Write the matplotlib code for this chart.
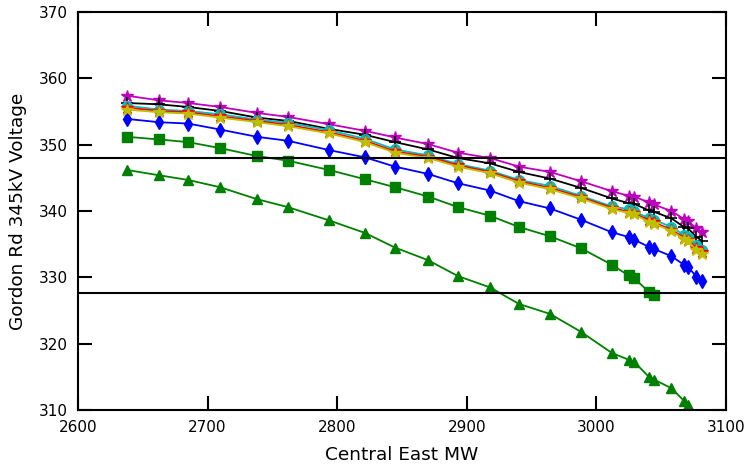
import numpy as np
import matplotlib
matplotlib.use('Agg')
import matplotlib.pyplot as plt

# Central East MW transfer levels (all cases share these, some stop early)
mw = [2637.8, 2662.5, 2684.9, 2709.6, 2738.1, 2762.0, 2793.7, 2821.5, 2844.6,
      2870.1, 2893.2, 2917.9, 2940.3, 2964.2, 2988.1, 3012.0, 3024.8, 3029.0,
      3040.6, 3044.4, 3057.9, 3067.6, 3070.7, 3077.2, 3081.5]

# Gordon Rd 345kV voltage for each case
v_mag = [357.4, 356.7, 356.3, 355.7, 354.8, 354.2, 353.1, 352.1, 351.1, 350.1,
         348.8, 348.0, 346.7, 345.9, 344.5, 343.0, 342.3, 342.2, 341.3, 341.0,
         340.0, 338.8, 338.5, 337.4, 336.8]
v_blk = [356.3, 356.1, 355.7, 355.1, 354.1, 353.6, 352.4, 351.5, 350.4, 349.3,
         348.0, 347.2, 345.9, 344.9, 343.5, 341.9, 341.2, 341.1, 340.1, 339.9,
         338.9, 337.6, 337.4, 336.1, 335.5]
v_cyn = [355.9, 355.3, 355.1, 354.6, 353.8, 353.3, 352.2, 350.9, 349.3, 348.4,
         347.1, 346.1, 344.7, 343.8, 342.3, 340.7, 340.3, 340.0, 338.9, 338.7,
         337.6, 336.4, 336.1, 334.9, 334.1]
v_red = [355.6, 355.1, 354.9, 354.3, 353.6, 353.0, 351.9, 350.6, 349.0, 348.2,
         346.9, 345.9, 344.5, 343.5, 342.1, 340.5, 339.9, 339.7, 338.6, 338.3,
         337.2, 336.0, 335.7, 334.4, 333.8]
v_yel = [355.3, 354.9, 354.7, 354.1, 353.4, 352.8, 351.7, 350.4, 348.8, 348.0,
         346.7, 345.7, 344.3, 343.3, 341.9, 340.3, 339.7, 339.5, 338.4, 338.1,
         337.0, 335.8, 335.5, 334.1, 333.5]
v_blu = [353.9, 353.4, 353.2, 352.3, 351.2, 350.6, 349.2, 348.1, 346.7, 345.6,
         344.2, 343.1, 341.5, 340.4, 338.7, 336.8, 336.1, 335.7, 334.6, 334.3,
         333.2, 331.9, 331.6, 330.1, 329.4]
v_sq = [351.2, 350.8, 350.4, 349.5, 348.3, 347.6, 346.2, 344.8, 343.6, 342.2,
        340.6, 339.3, 337.6, 336.2, 334.4, 331.9, 330.3, 329.9, 327.8, 327.3]
v_tri = [346.2, 345.4, 344.7, 343.6, 341.8, 340.6, 338.6, 336.7, 334.5, 332.6,
         330.2, 328.5, 326.0, 324.5, 321.8, 318.6, 317.6, 317.3, 315.0, 314.6,
         313.3, 311.4, 310.8]

# voltage limits
v_hi = 348.0
v_lo = 327.7

fig = plt.figure(figsize=(7.5, 4.66), dpi=100)
ax = fig.add_axes([0.104, 0.12, 0.864, 0.854])

lw = 1.3
ax.plot(mw[:len(v_tri)], v_tri, 'g^-', lw=lw, ms=7, mec='g')
ax.plot(mw[:len(v_sq)], v_sq, 'gs-', lw=lw, ms=7, mec='g')
ax.plot(mw, v_blu, 'bd-', lw=lw, ms=7, mec='b')
ax.plot(mw, v_mag, 'm*-', lw=lw, ms=9, mec='m')
ax.plot(mw, v_blk, 'k+-', lw=lw, ms=9, mew=1.2)
ax.plot(mw, v_cyn, 'co-', lw=lw, ms=7, mec='c')
ax.plot(mw, v_red, 'r*-', lw=lw, ms=9, mec='r')
ax.plot(mw, v_yel, '*-', color=(0.75, 0.75, 0), lw=lw, ms=9, mec=(0.75, 0.75, 0))

ax.axhline(v_hi, color='k', lw=1.5)
ax.axhline(v_lo, color='k', lw=1.5)

ax.set_xlim(2600, 3100)
ax.set_ylim(310, 370)
ax.set_xticks(np.arange(2600, 3101, 100))
ax.set_yticks(np.arange(310, 371, 10))
ax.tick_params(direction='in', top=True, right=True, length=10, width=1.5,
               labelsize=11, pad=7)
for s in ax.spines.values():
    s.set_linewidth(1.5)

ax.set_xlabel('Central East MW', fontsize=13.3, labelpad=8)
ax.set_ylabel('Gordon Rd 345kV Voltage', fontsize=13.3, labelpad=9)

fig.savefig('out.png', dpi=100)
